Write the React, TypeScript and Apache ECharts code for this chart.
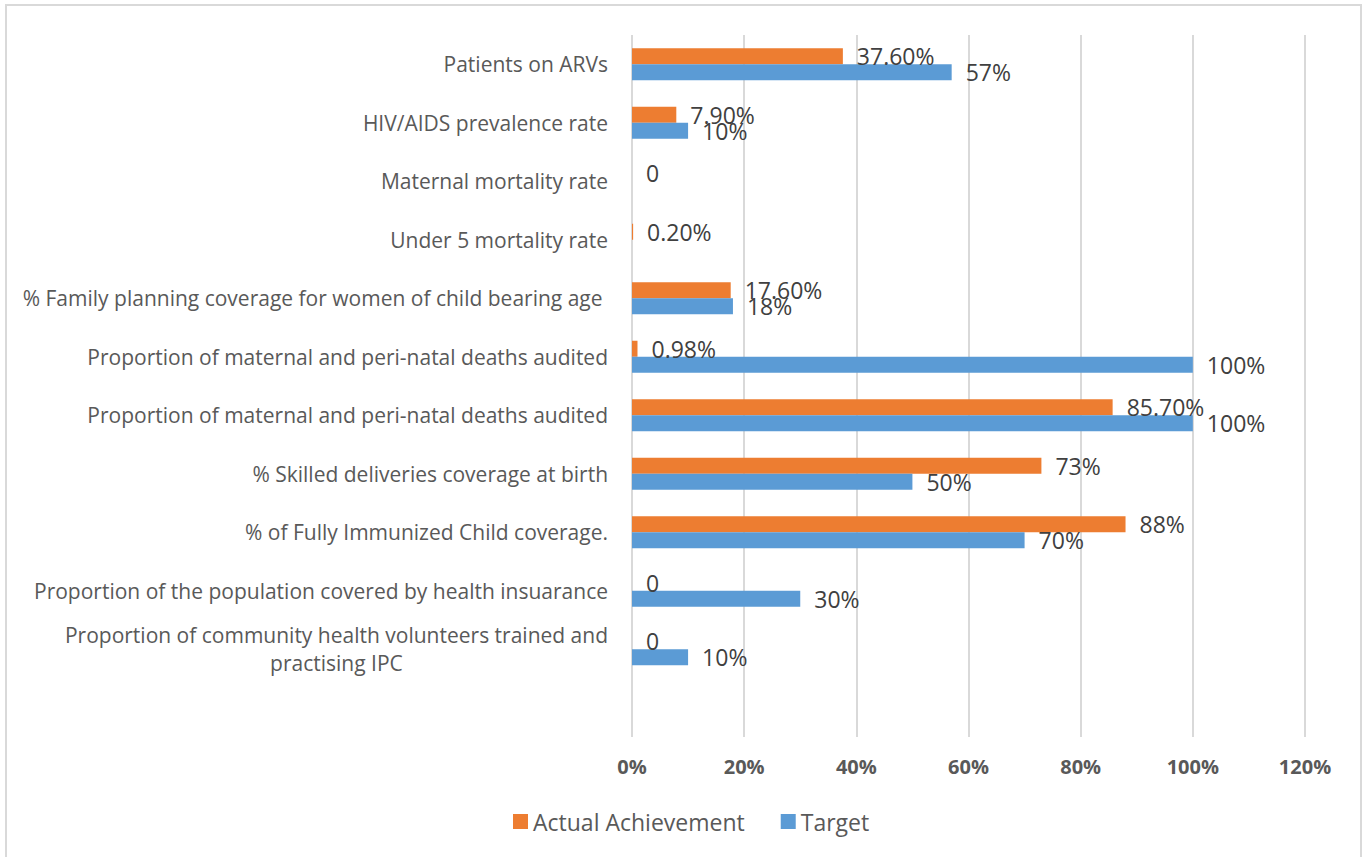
import React, { useEffect, useRef } from "react";
import * as echarts from "echarts";

// bottom to top
const categories: string[] = [
  "",
  "Proportion of community health volunteers trained and\npractising IPC",
  "Proportion of the population covered by health insuarance",
  "% of Fully Immunized Child coverage.",
  "% Skilled deliveries coverage at birth",
  "Proportion of maternal and peri-natal deaths audited",
  "Proportion of maternal and peri-natal deaths audited",
  "% Family planning coverage for women of child bearing age ",
  "Under 5 mortality rate",
  "Maternal mortality rate",
  "HIV/AIDS prevalence rate",
  "Patients on ARVs",
];

const actualValues: (number | null)[] = [null, 0, 0, 88, 73, 85.7, 0.98, 17.6, 0.2, 0, 7.9, 37.6];
const actualLabels: string[] = ["", "0", "0", "88%", "73%", "85.70%", "0.98%", "17.60%", "0.20%", "0", "7.90%", "37.60%"];

const targetValues: (number | null)[] = [null, 10, 30, 70, 50, 100, 100, 18, null, null, 10, 57];
const targetLabels: string[] = ["", "10%", "30%", "70%", "50%", "100%", "100%", "18%", "", "", "10%", "57%"];

const xTicks = [0, 20, 40, 60, 80, 100, 120];

export default function App() {
  const ref = useRef<HTMLDivElement>(null);
  useEffect(() => {
    if (!ref.current) return;
    const chart = echarts.init(ref.current, undefined, { renderer: "svg" });
    const font = "'Open Sans', sans-serif";
    chart.setOption({
      animation: false,
      backgroundColor: "#ffffff",
      graphic: [
        {
          type: "rect",
          shape: { x: 6, y: 5, width: 1355, height: 862 },
          style: { fill: "none", stroke: "#d9d9d9", lineWidth: 2 },
          silent: true,
        },
      ],
      grid: { left: 632, right: 60, top: 35, bottom: 120, containLabel: false },
      legend: {
        data: ["Actual Achievement", "Target"],
        left: 508,
        top: 805,
        icon: "rect",
        itemWidth: 15,
        itemHeight: 15,
        itemGap: 36,
        itemStyle: { borderWidth: 0 },
        textStyle: { fontFamily: font, fontSize: 23, color: "#595959" },
      },
      xAxis: {
        type: "value",
        min: 0,
        max: 120,
        interval: 20,
        axisLine: { show: false },
        axisTick: { show: false },
        splitLine: { show: true, lineStyle: { color: "#d9d9d9", width: 2 } },
        axisLabel: {
          formatter: (v: number) => (xTicks.includes(v) ? v + "%" : ""),
          fontFamily: font,
          fontSize: 20,
          fontWeight: "bold",
          color: "#595959",
          margin: 19,
        },
      },
      yAxis: {
        type: "category",
        data: categories,
        axisLine: { show: false },
        axisTick: { show: false },
        axisLabel: {
          margin: 24,
          formatter: (v: string) =>
            v
              .split("\n")
              .map((s) => "{c|" + s + "}")
              .join("\n"),
          rich: {
            c: {
              fontFamily: font,
              fontSize: 21,
              color: "#595959",
              align: "center",
              lineHeight: 28,
            },
          },
        },
      },
      series: [
        {
          name: "Actual Achievement",
          type: "bar",
          data: actualValues,
          barWidth: 16,
          barGap: "0%",
          itemStyle: { color: "#ED7D31" },
          label: {
            show: true,
            position: "right",
            distance: 14,
            formatter: (p: any) => actualLabels[p.dataIndex],
            fontFamily: font,
            fontSize: 23,
            color: "#404040",
          },
        },
        {
          name: "Target",
          type: "bar",
          data: targetValues,
          barWidth: 16,
          barGap: "0%",
          itemStyle: { color: "#5B9BD5" },
          label: {
            show: true,
            position: "right",
            distance: 14,
            formatter: (p: any) => targetLabels[p.dataIndex],
            fontFamily: font,
            fontSize: 23,
            color: "#404040",
          },
        },
      ],
    });
    return () => chart.dispose();
  }, []);
  return (
    <div
      ref={ref}
      style={{ position: "absolute", left: 0, top: 0, width: 1365, height: 857 }}
    />
  );
}
